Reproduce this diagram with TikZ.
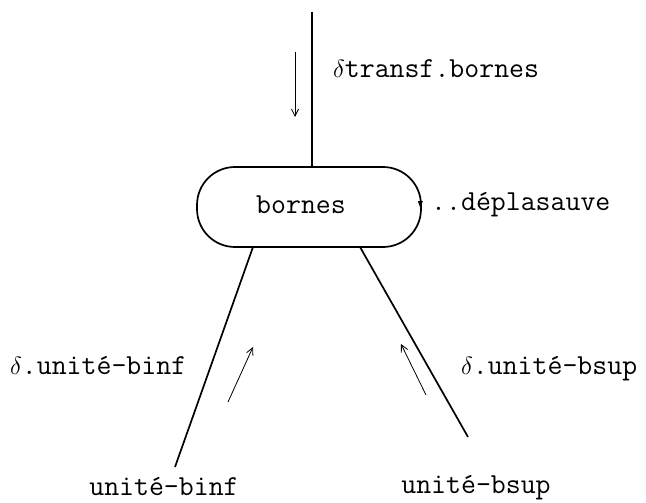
\documentclass[tikz,border=0pt]{standalone}
\usetikzlibrary{arrows.meta}
\tikzset{
  lbl/.style={font=\ttfamily\fontsize{29}{34}\selectfont, inner sep=0pt},
  mainline/.style={line width=1.7pt},
  flow/.style={line width=0.8pt, -{Straight Barb[length=7pt,width=7pt]}},
  boxst/.style={draw, line width=1.7pt, rounded corners=38pt, minimum width=224pt, minimum height=80pt, inner sep=0pt}
}
\newcommand{\dlt}{\ensuremath{\delta}}
\begin{document}
\begin{tikzpicture}[x=1pt,y=-1pt]
\useasboundingbox (0,0) rectangle (646,503);
\node[boxst] (bornes) at (309,207) {};
\node[lbl, anchor=base] (bt) at (301,213) {bornes};
\coordinate (top) at (312,12);
\coordinate (binf) at (175,467);
\coordinate (bsup) at (468,437);
\draw[mainline] (top) -- (312,167);
\draw[mainline] (253,247) -- (binf);
\draw[mainline] (360,247) -- (bsup);
% small flow arrows
\coordinate (a1s) at (295,52); \coordinate (a1e) at (295,117);
\draw[flow] (a1s) -- (a1e);
\coordinate (a2s) at (228,402); \coordinate (a2e) at (253,347);
\draw[flow] (a2s) -- (a2e);
\coordinate (a3s) at (426,395); \coordinate (a3e) at (401,344);
\draw[flow] (a3s) -- (a3e);
% marker on box edge
\fill (bornes.east) ++(-4,-6) -- ++(5,0) -- ++(-2.5,7) -- cycle;
% labels
\node[lbl, anchor=base west] (l1) at (333,78) {\dlt transf.bornes};
\node[lbl, anchor=base west] (l2) at (431,210) {..déplasauve};
\node[lbl, anchor=base west] (l3) at (10,374) {\dlt.unité-binf};
\node[lbl, anchor=base west] (l4) at (461,374) {\dlt.unité-bsup};
\node[lbl, anchor=base] (l5) at (164,495) {unité-binf};
\node[lbl, anchor=base] (l6) at (476,493) {unité-bsup};
\end{tikzpicture}
\end{document}
